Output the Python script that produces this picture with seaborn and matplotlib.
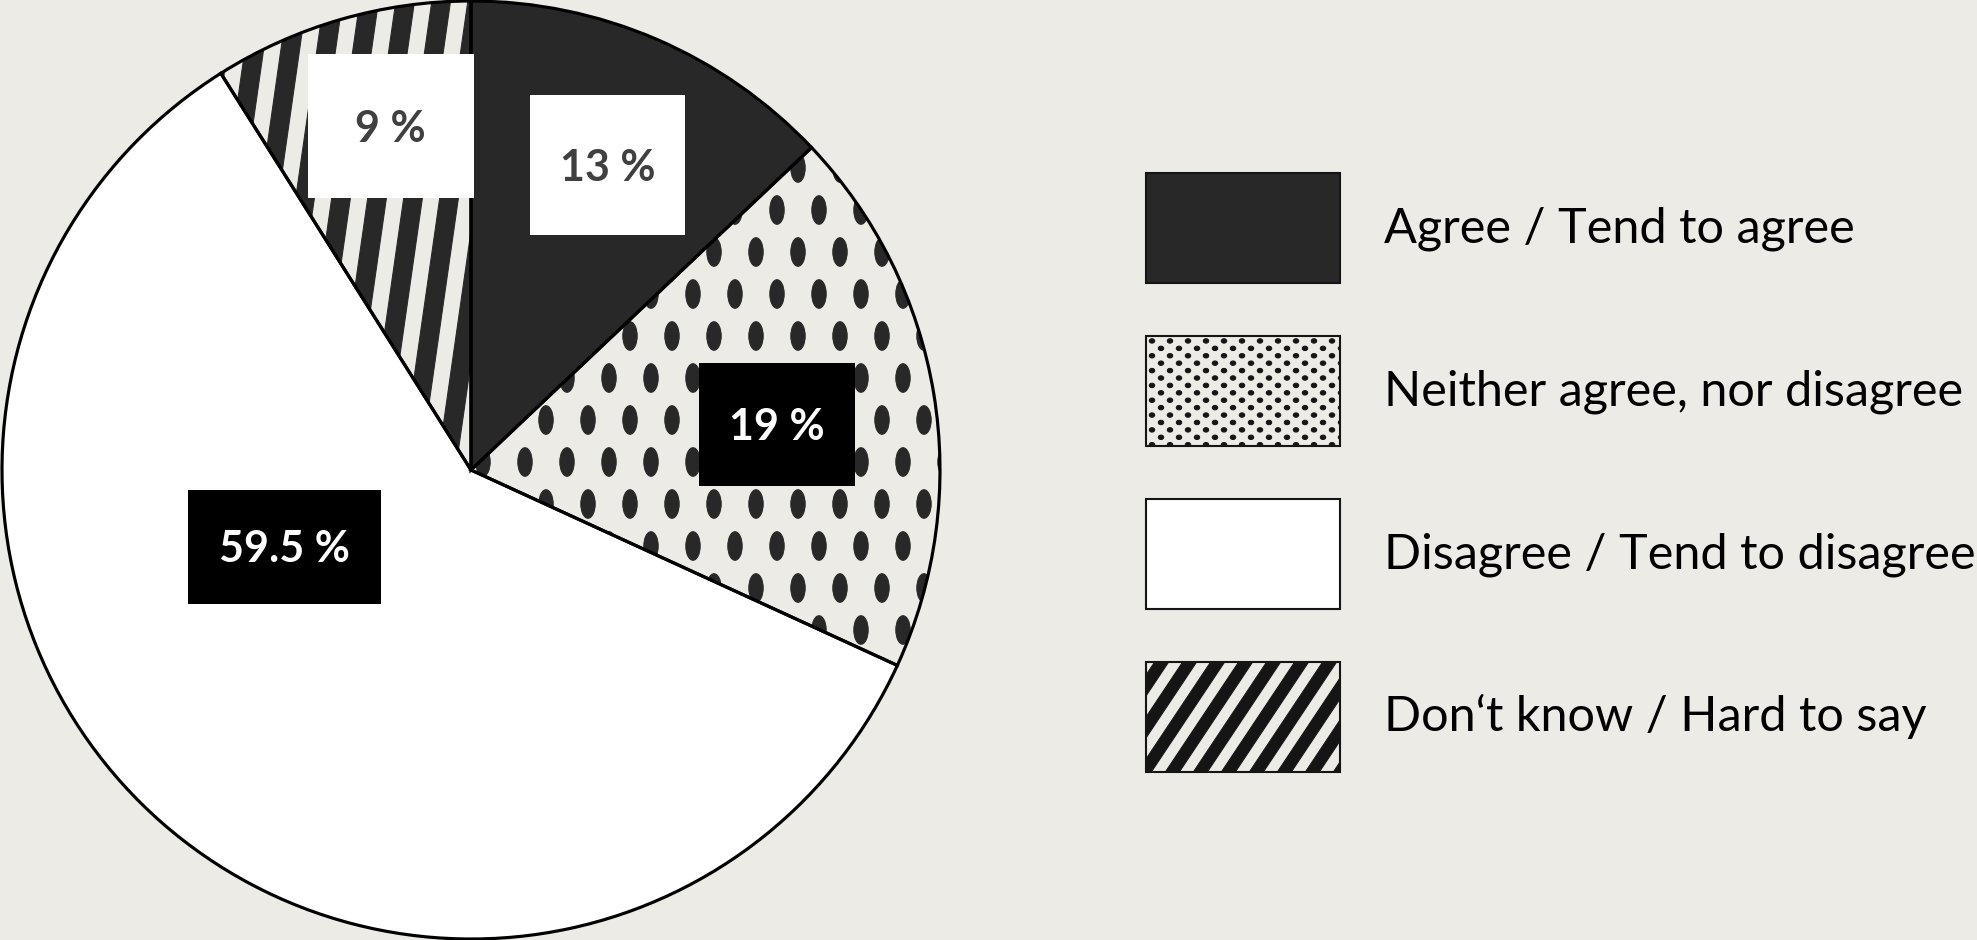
import numpy as np
import matplotlib
matplotlib.use("Agg")
import matplotlib.pyplot as plt
import matplotlib.hatch as mhatch
from matplotlib.path import Path
from matplotlib.patches import Patch, Rectangle
from matplotlib.font_manager import FontProperties
import seaborn as sns

# ---- data -------------------------------------------------------------
categories = [
    "Agree / Tend to agree",
    "Neither agree, nor disagree",
    "Disagree / Tend to disagree",
    "Don\u2018t know / Hard to say",
]
shares = [13, 19, 59.5, 9]
value_labels = ["13 %", "19 %", "59.5 %", "9 %"]

# ---- styling ----------------------------------------------------------
BG = "#ECEBE5"
INK = "#282828"
face_colors = [INK, BG, "white", BG]
pie_hatches = [None, "O", None, "|"]
legend_hatches = [None, ".", None, "/"]
label_text_colors = ["#404040", "white", "white", "#404040"]
label_box_colors = ["white", "black", "black", "white"]
# label centres and box sizes, in pie units (radius = 1)
label_centres = [(0.291, 0.650), (0.652, 0.097), (-0.398, -0.164), (-0.171, 0.733)]
label_boxes = [(0.330, 0.299), (0.333, 0.262), (0.412, 0.243), (0.354, 0.307)]

DPI = 252
FONT = ["Lato", "DejaVu Sans"]


# ---- fill patterns ----------------------------------------------------
class _Dots(mhatch.HatchPatternBase):
    """Staggered grid of filled ellipses."""
    key, rows, cols, rx, ry = "O", 6, 6, 0.026, 0.053

    def __init__(self, hatch, density):
        self.on = hatch is not None and hatch.count(self.key) > 0
        circ = Path.unit_circle()
        self._v = circ.vertices * [self.rx, self.ry]
        self._c = circ.codes
        n = (self.rows + 1) * (self.cols + 2)
        self.num_vertices = n * len(self._v) if self.on else 0

    def set_vertices_and_codes(self, vertices, codes):
        vs, cs = [], []
        for r in range(self.rows + 1):
            shift = 0.5 / self.cols if r % 2 else 0.0
            for c in range(-1, self.cols + 1):
                vs.append(self._v + [c / self.cols + shift, r / self.rows])
                cs.append(self._c)
        vertices[:] = np.concatenate(vs)
        codes[:] = np.concatenate(cs)


class _Bands(mhatch.HatchPatternBase):
    """Slanted solid stripes that tile seamlessly."""
    key, per, lean, dark = "|", 7, 1, 0.5

    def __init__(self, hatch, density):
        self.on = hatch is not None and hatch.count(self.key) > 0
        self.num_vertices = 5 * (self.per + self.lean + 2) if self.on else 0

    def set_vertices_and_codes(self, vertices, codes):
        p = 1.0 / self.per
        s = self.lean * p
        w = self.dark * p
        v = []
        for i in range(-self.lean - 1, self.per + 1):
            x0 = i * p
            v += [(x0, 0), (x0 + w, 0), (x0 + w + s, 1), (x0 + s, 1), (x0, 0)]
        vertices[:] = np.array(v, dtype=float)
        codes[:] = [Path.MOVETO, Path.LINETO, Path.LINETO, Path.LINETO,
                    Path.CLOSEPOLY] * (len(v) // 5)


class PieDots(_Dots):
    key, rows, cols, rx, ry = "O", 6, 6, 7.2 / DPI, 14.3 / DPI


class KeyDots(_Dots):
    key, rows, cols, rx, ry = ".", 34, 14, 2.7 / DPI, 2.2 / DPI


class PieStripes(_Bands):
    key, per, lean, dark = "|", 7, 1, 0.52


class KeyStripes(_Bands):
    key, per, lean, dark = "/", 9, 6, 0.5


mhatch._hatch_types = [PieDots, KeyDots, PieStripes, KeyStripes]

# ---- figure -----------------------------------------------------------
sns.set_theme(style="white", rc={"figure.facecolor": BG, "axes.facecolor": BG})
plt.rcParams["font.family"] = FONT
plt.rcParams["hatch.linewidth"] = 0.3

W, H = 1977, 940
fig = plt.figure(figsize=(W / DPI, H / DPI), dpi=DPI)
ax = fig.add_axes([2 / W, 1 / H, 938 / W, 938 / H])

# patterned fills (hatch colour follows the edge colour)
ax.pie(shares, startangle=90, counterclock=False, radius=1,
       colors=face_colors, hatch=pie_hatches,
       wedgeprops=dict(linewidth=0, edgecolor=INK, clip_on=False))
# crisp black outlines on top
ax.pie(shares, startangle=90, counterclock=False, radius=1,
       colors=["none"] * len(shares),
       wedgeprops=dict(linewidth=0.9, edgecolor="black", clip_on=False))
ax.set_xlim(-1, 1)
ax.set_ylim(-1, 1)
ax.set_axis_off()

digit_half = 15.5 / 469
for (cx, cy), (bw, bh), txt, tc, bc in zip(label_centres, label_boxes, value_labels,
                                           label_text_colors, label_box_colors):
    ax.add_patch(Rectangle((cx - bw / 2, cy - bh / 2), bw, bh, facecolor=bc,
                           edgecolor="none", zorder=5, clip_on=False))
    ax.text(cx, cy - digit_half, txt, ha="center", va="baseline", color=tc,
            fontsize=12.3, fontweight="bold", family=FONT, zorder=6)

# ---- legend -----------------------------------------------------------
handles = [Patch(facecolor=fc, edgecolor="#151515", hatch=h, linewidth=0.6)
           for fc, h in zip(face_colors, legend_hatches)]
LEG_PT = 13.9
prop = FontProperties(family=FONT, size=LEG_PT)
fpx = LEG_PT * DPI / 72
key_w, key_h = 194, 110          # legend key size in pixels
hh = (key_h / fpx - 0.245) / 0.65
fig.legend(handles, categories, loc="upper left",
           bbox_to_anchor=(1146 / W, 1 - 173 / H), bbox_transform=fig.transFigure,
           frameon=False, prop=prop, borderpad=0, borderaxespad=0,
           handlelength=key_w / fpx, handleheight=hh,
           handletextpad=44 / fpx, labelspacing=53 / fpx, labelcolor="black")

fig.savefig("out.png", dpi=DPI, facecolor=BG)
